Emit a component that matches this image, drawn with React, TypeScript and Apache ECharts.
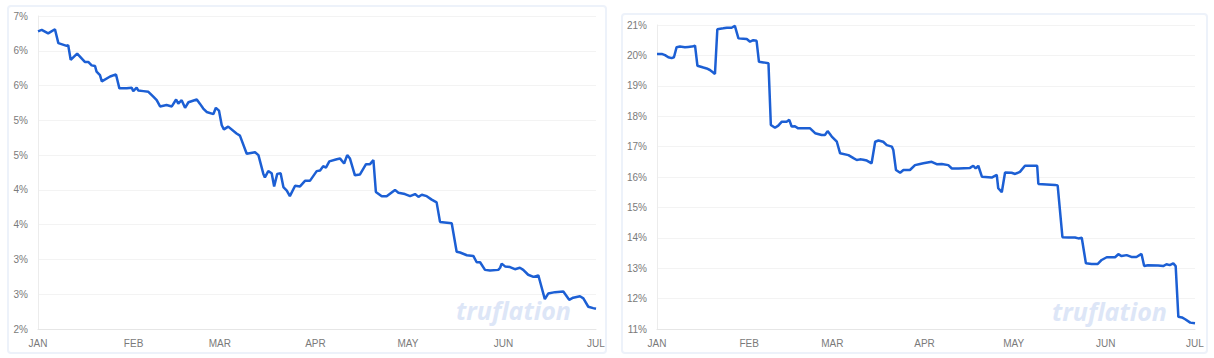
import React, { useEffect, useRef } from "react";
import * as echarts from "echarts";

// Month tick labels
const monthLabels = ["JAN", "FEB", "MAR", "APR", "MAY", "JUN", "JUL"];

// Left panel: days since Jan 1 and value (%)
const leftDays = [
  0, 1.2, 3.3, 5.5, 6.6, 9.3, 9.8, 10.6, 12.7, 15.2,
  16.3, 17.4, 18.5, 19.0, 20.1, 20.7, 23.4, 25.3, 26.4, 28.8,
  30.4, 30.9, 32.0, 32.5, 34.2, 35.8, 37.4, 38.5, 39.6, 41.7,
  43.4, 44.8, 45.5, 46.6, 47.7, 48.8, 51.5, 52.5, 53.6, 54.7,
  56.9, 57.7, 58.7, 59.6, 60.3, 61.7, 64.4, 65.5, 67.7, 70.4,
  71.5, 73.1, 73.6, 74.7, 75.8, 76.6, 77.6, 78.7, 79.6, 80.7,
  81.7, 83.4, 85.0, 86.6, 88.2, 90.4, 91.5, 92.5, 93.4, 94.5,
  96.9, 98.0, 99.3, 100.3, 101.2, 102.8, 104.4, 106.4, 107.7, 108.8,
  109.6, 111.5, 113.1, 115.8, 116.9, 119.0, 120.7, 122.3, 123.4, 124.5,
  126.1, 127.7, 129.3, 130.4, 134.2, 135.8, 136.9, 139.1, 141.2, 142.3,
  143.4, 145.0, 146.6, 149.3, 149.9, 150.4, 151.5, 153.1, 154.7, 156.3,
  157.4, 159.0, 160.7, 162.3, 162.8, 164.4, 165.5, 167.7, 170.4, 172.3,
  173.6, 175.8, 176.9, 178.5, 180.1, 181,
];
const leftValues = [
  6.28, 6.30, 6.25, 6.31, 6.11, 6.07, 6.08, 5.87, 5.96, 5.84,
  5.84, 5.79, 5.78, 5.70, 5.65, 5.56, 5.63, 5.66, 5.46, 5.46,
  5.47, 5.42, 5.47, 5.43, 5.42, 5.41, 5.34, 5.29, 5.20, 5.22,
  5.20, 5.30, 5.24, 5.29, 5.18, 5.26, 5.30, 5.24, 5.17, 5.12,
  5.09, 5.18, 5.14, 4.93, 4.87, 4.91, 4.81, 4.78, 4.52, 4.54,
  4.50, 4.23, 4.18, 4.27, 4.24, 4.05, 4.23, 4.24, 4.04, 3.99,
  3.91, 4.06, 4.05, 4.13, 4.13, 4.27, 4.28, 4.34, 4.32, 4.41,
  4.44, 4.45, 4.38, 4.50, 4.45, 4.21, 4.22, 4.37, 4.37, 4.43,
  3.97, 3.91, 3.91, 4.00, 3.96, 3.94, 3.91, 3.94, 3.90, 3.93,
  3.91, 3.86, 3.82, 3.54, 3.52, 3.11, 3.10, 3.06, 3.05, 2.96,
  2.96, 2.85, 2.84, 2.85, 2.88, 2.94, 2.90, 2.89, 2.86, 2.88,
  2.85, 2.78, 2.75, 2.77, 2.69, 2.43, 2.51, 2.53, 2.54, 2.42,
  2.45, 2.47, 2.44, 2.32, 2.30, 2.29,
];

// Right panel: days since Jan 1 and value (%)
const rightDays = [
  0, 1.6, 2.7, 3.8, 4.9, 5.7, 6.6, 7.7, 9.4, 10.5,
  11.7, 12.8, 13.6, 15.6, 16.7, 17.8, 18.9, 19.5, 20.3, 22.3,
  23.5, 25.1, 26.2, 27.4, 29.0, 30.2, 31.3, 32.4, 33.5, 34.3,
  35.8, 37.5, 38.3, 39.7, 40.8, 42.0, 43.6, 44.5, 45.3, 46.4,
  47.5, 51.5, 53.2, 55.4, 56.5, 57.4, 58.8, 60.5, 61.6, 64.4,
  66.1, 67.2, 68.3, 69.4, 70.6, 72.2, 73.4, 74.5, 76.1, 77.3,
  79.0, 79.5, 80.4, 81.8, 82.9, 85.1, 86.8, 88.5, 89.6, 92.4,
  94.1, 95.8, 98.0, 99.2, 101.4, 105.3, 106.4, 107.2, 108.1, 109.3,
  112.6, 114.3, 114.8, 116.0, 117.1, 119.3, 120.5, 122.1, 123.8, 127.9,
  128.3, 133.9, 134.8, 136.4, 138.4, 140.6, 141.8, 142.9, 144.3, 146.2,
  148.3, 149.6, 151.3, 154.1, 155.2, 156.3, 158.0, 159.6, 161.3, 163.0,
  163.9, 165.2, 168.6, 170.3, 171.4, 172.5, 173.7, 174.5, 175.4, 176.6,
  177.7, 179.4, 181,
];
const rightValues = [
  20.05, 20.05, 20.01, 19.94, 19.91, 19.94, 20.27, 20.29, 20.27, 20.28,
  20.29, 20.32, 19.66, 19.60, 19.57, 19.52, 19.44, 19.39, 20.86, 20.89,
  20.91, 20.91, 20.97, 20.56, 20.55, 20.54, 20.45, 20.50, 20.48, 19.79,
  19.77, 19.74, 17.71, 17.62, 17.69, 17.82, 17.82, 17.88, 17.66, 17.67,
  17.60, 17.60, 17.44, 17.38, 17.38, 17.51, 17.33, 17.16, 16.78, 16.72,
  16.62, 16.56, 16.58, 16.57, 16.54, 16.45, 17.16, 17.20, 17.16, 17.05,
  17.00, 16.89, 16.23, 16.14, 16.23, 16.23, 16.39, 16.43, 16.45, 16.50,
  16.42, 16.43, 16.39, 16.28, 16.28, 16.30, 16.37, 16.28, 16.37, 16.01,
  15.98, 16.07, 15.63, 15.50, 16.15, 16.14, 16.10, 16.17, 16.37, 16.37,
  15.77, 15.74, 15.72, 14.02, 14.01, 14.01, 13.98, 14.00, 13.16, 13.14,
  13.14, 13.27, 13.36, 13.36, 13.46, 13.40, 13.43, 13.37, 13.37, 13.47,
  13.07, 13.10, 13.09, 13.07, 13.13, 13.10, 13.16, 13.07, 11.40, 11.38,
  11.32, 11.21, 11.19,
];

const BASE = new Date(2023, 0, 1).getTime();
const END = new Date(2023, 6, 1).getTime();
const DAY = 86400000;
const toPoints = (days: number[], vals: number[]) =>
  days.map((d, i) => [BASE + d * DAY, vals[i]]);

const LINE = "#1c5fd4";
const LABEL = "#7a7a7a";

function xAxis(gridIndex: number) {
  return {
    type: "time",
    gridIndex,
    min: BASE,
    max: END,
    splitNumber: 6,
    minInterval: 28 * DAY,
    axisLine: { show: true, lineStyle: { color: "#e6e6e6", width: 1 } },
    axisTick: { show: false },
    splitLine: { show: false },
    axisLabel: {
      color: LABEL,
      fontSize: 10,
      fontFamily: "Liberation Sans, Arial, sans-serif",
      margin: 9,
      showMinLabel: true,
      showMaxLabel: true,
      hideOverlap: false,
      formatter: (v: number) => monthLabels[new Date(v).getMonth()],
    },
  };
}

function yAxis(gridIndex: number, min: number, max: number, interval: number) {
  return {
    type: "value",
    gridIndex,
    min,
    max,
    interval,
    axisLine: { show: true, lineStyle: { color: "#ececec", width: 1 } },
    axisTick: { show: false },
    splitLine: { show: true, lineStyle: { color: "#f3f3f3", width: 1 } },
    axisLabel: {
      color: LABEL,
      fontSize: 10,
      fontFamily: "Liberation Sans, Arial, sans-serif",
      margin: 10,
      formatter: (v: number) => v.toFixed(0) + "%",
    },
  };
}

export default function App() {
  const ref = useRef<HTMLDivElement>(null);
  useEffect(() => {
    if (!ref.current) return;
    const chart = echarts.init(ref.current, undefined, { renderer: "svg" });
    chart.setOption({
      animation: false,
      backgroundColor: "#ffffff",
      grid: [
        { left: 38, right: 1214 - 596, top: 16, bottom: 29 },
        { left: 657, right: 1214 - 1195, top: 25, bottom: 29 },
      ],
      xAxis: [xAxis(0), xAxis(1)],
      yAxis: [yAxis(0, 2, 6.5, 0.5), yAxis(1, 11, 21, 1)],
      graphic: [
        {
          type: "rect",
          silent: true,
          z: -10,
          shape: { x: 8, y: 6, width: 598, height: 347, r: 3 },
          style: { fill: "none", stroke: "#edf2fa", lineWidth: 2 },
        },
        {
          type: "rect",
          silent: true,
          z: -10,
          shape: { x: 622, y: 14, width: 585, height: 339, r: 3 },
          style: { fill: "none", stroke: "#edf2fa", lineWidth: 2 },
        },
        {
          type: "text",
          silent: true,
          z: -5,
          x: 456,
          y: 310,
          style: {
            text: "truflation",
            font: 'italic bold 25px "Open Sans"',
            fill: "#dde6f7",
            verticalAlign: "middle",
          },
        },
        {
          type: "text",
          silent: true,
          z: -5,
          x: 1052,
          y: 311,
          style: {
            text: "truflation",
            font: 'italic bold 25px "Open Sans"',
            fill: "#dde6f7",
            verticalAlign: "middle",
          },
        },
      ],
      series: [
        {
          type: "line",
          xAxisIndex: 0,
          yAxisIndex: 0,
          data: toPoints(leftDays, leftValues),
          showSymbol: false,
          lineStyle: { color: LINE, width: 2.5 },
          itemStyle: { color: LINE },
        },
        {
          type: "line",
          xAxisIndex: 1,
          yAxisIndex: 1,
          data: toPoints(rightDays, rightValues),
          showSymbol: false,
          lineStyle: { color: LINE, width: 2.5 },
          itemStyle: { color: LINE },
        },
      ],
    });
    return () => chart.dispose();
  }, []);
  return (
    <div
      ref={ref}
      style={{ position: "fixed", left: 0, top: 0, width: 1214, height: 358 }}
    />
  );
}
